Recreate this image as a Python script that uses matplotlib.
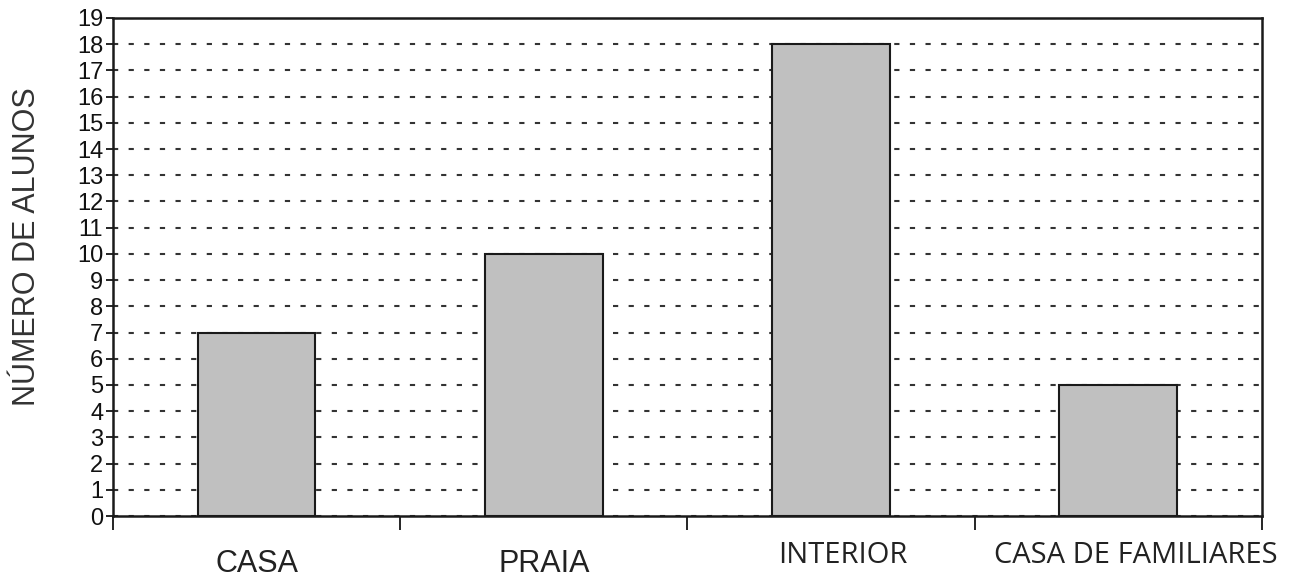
import matplotlib
matplotlib.use("Agg")
import numpy as np
import matplotlib.pyplot as plt
from matplotlib import transforms

categories = ["CASA", "PRAIA", "INTERIOR", "CASA DE FAMILIARES"]
alunos = [7, 10, 18, 5]
yticks = list(range(0, 20))
ylabel = "NÚMERO DE ALUNOS"

plt.rcParams['font.family'] = ['Liberation Sans', 'DejaVu Sans']

fig = plt.figure(figsize=(12.91, 5.80), dpi=100)
ax = fig.add_axes([0.0875, 0.1103, 0.89, 0.8587])

x = np.arange(len(categories))
ax.bar(x, alunos, width=0.41, color="#c0c0c0", edgecolor="#1a1a1a",
       linewidth=1.5, zorder=3)

ax.set_xlim(-0.5, len(categories) - 0.5)
ax.set_ylim(0, 19)
ax.set_yticks(yticks)
ax.set_yticklabels([str(v) for v in yticks], fontsize=17, color="#111111")
ax.tick_params(axis='y', direction='out', length=5, width=1.2, pad=2)

# x ticks between categories, labels placed as text
ax.set_xticks(np.arange(-0.5, len(categories), 1.0))
ax.set_xticklabels([])
ax.tick_params(axis='x', direction='out', length=10, width=1.2)

ax.yaxis.grid(True, linestyle=(0, (2.5, 5)), color="#333333", linewidth=1.5, zorder=0)
ax.set_axisbelow(True)
for s in ax.spines.values():
    s.set_linewidth(1.8)
    s.set_color("#1a1a1a")

tr = transforms.blended_transform_factory(ax.transData, fig.transFigure)
label_y = [0.027, 0.027, 0.042, 0.042]
label_dx = [0.0, 0.0, 0.04, 0.06]
label_size = [22, 22, 21, 21]
label_font = ['Liberation Sans', 'Liberation Sans', 'Open Sans', 'Open Sans']
for i, name in enumerate(categories):
    ax.text(i + label_dx[i], label_y[i], name, transform=tr, ha='center', va='center',
            fontsize=label_size[i], color="#222222",
            family=[label_font[i], 'DejaVu Sans'])

ax.set_ylabel(ylabel, fontsize=22, color="#333333")
ax.yaxis.set_label_coords(-0.062, 0.54)

fig.savefig("out.png", dpi=100, facecolor="white")
